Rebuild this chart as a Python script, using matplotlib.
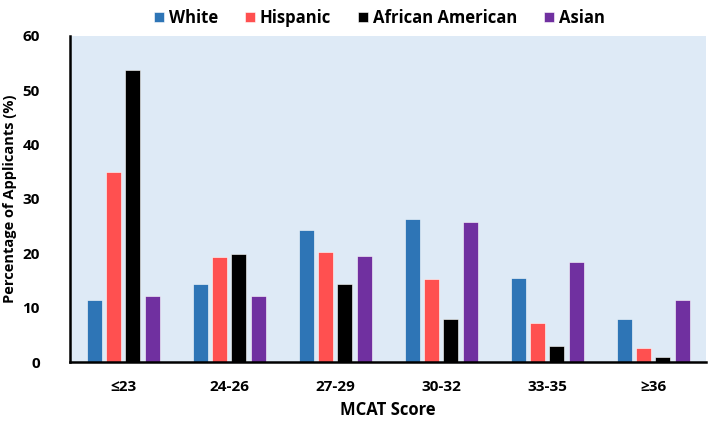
import matplotlib.pyplot as plt
import numpy as np

plt.rcParams['font.family'] = ['Open Sans', 'DejaVu Sans']
plt.rcParams['font.weight'] = 'bold'

categories = ['≤23', '24-26', '27-29', '30-32', '33-35', '≥36']
groups = ['White', 'Hispanic', 'African American', 'Asian']
white = [11.4, 14.4, 24.3, 26.3, 15.5, 7.9]
hispanic = [35.0, 19.4, 20.3, 15.3, 7.1, 2.5]
african_american = [53.8, 19.9, 14.4, 7.9, 2.9, 0.9]
asian = [12.2, 12.2, 19.5, 25.8, 18.4, 11.4]
colors = ['#2E75B6', '#FF5050', '#000000', '#7030A0']

fig = plt.figure(figsize=(7.09, 4.22), dpi=100)
ax = fig.add_axes([0.099, 0.142, 0.897, 0.773])
ax.set_facecolor('#DEEAF6')

x = np.arange(len(categories))
w = 0.14
step = 0.182
for i, (vals, name) in enumerate(zip([white, hispanic, african_american, asian], groups)):
    ax.bar(x + (i - 1.5) * step, vals, w, color=colors[i], label=name,
           edgecolor='#ffffff', linewidth=0.4)

ax.set_xlim(-0.5, len(categories) - 0.5)
ax.set_ylim(0, 60)
ax.set_yticks(range(0, 61, 10))
ax.set_xticks(x)
ax.set_xticklabels(categories)
ax.tick_params(length=0, labelsize=11)
ax.tick_params(axis='x', pad=13)
ax.tick_params(axis='y', pad=22)
for s in ['top', 'right']:
    ax.spines[s].set_visible(False)
for s in ['left', 'bottom']:
    ax.spines[s].set_linewidth(1.8)
ax.set_xlabel('MCAT Score', fontsize=12, fontweight='bold', va='center')
ax.xaxis.set_label_coords(0.5, -0.147)
ax.set_ylabel('Percentage of Applicants (%)', fontsize=10.5, fontweight='bold', va='center')
ax.yaxis.set_label_coords(-0.095, 0.5)

fig.legend(loc='upper center', bbox_to_anchor=(0.535, 1.015), ncol=4, frameon=False,
           fontsize=12, handlelength=0.6, handleheight=0.6, handletextpad=0.3,
           columnspacing=1.6)

fig.savefig('out.png', dpi=100)
